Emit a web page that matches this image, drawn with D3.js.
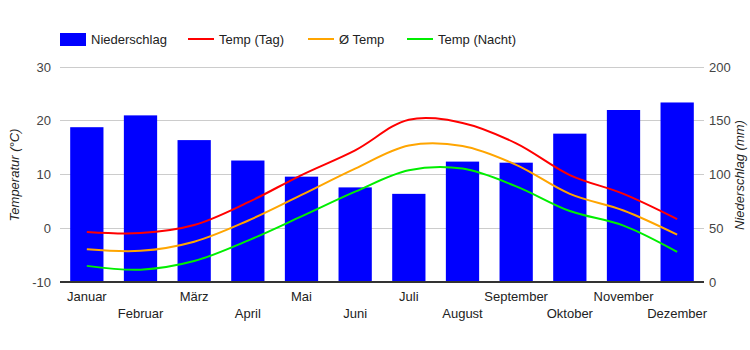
<!DOCTYPE html>
<html><head><meta charset="utf-8">
<script src="https://cdn.jsdelivr.net/npm/d3@7"></script>
<style>body{margin:0;background:#fff;font-family:Arial,"Liberation Sans",sans-serif;}</style>
</head><body><svg id="c" width="750" height="350"></svg>
<script>
const months = ["Januar","Februar","März","April","Mai","Juni","Juli","August","September","Oktober","November","Dezember"];
const precip = [144,155,132,113,98,88,82,112,111,138,160,167];
const tempDay = [-0.7,-0.9,0.6,4.8,9.9,14.5,20.2,19.6,15.8,9.9,6.4,1.7];
const tempAvg = [-3.9,-4.2,-2.5,1.4,6.2,11.1,15.4,15.3,11.8,6.4,3.3,-1.2];
const tempNight = [-7.0,-7.7,-6.1,-2.3,2.2,6.8,10.8,11.1,7.8,3.2,0.5,-4.4];
const tempTicks = [-10,0,10,20,30];
const precipTicks = [0,50,100,150,200];
const legendItems = [
  {label:"Niederschlag", type:"rect", color:"#0000ff"},
  {label:"Temp (Tag)", type:"line", color:"#ff0000"},
  {label:"Ø Temp", type:"line", color:"#ffa500"},
  {label:"Temp (Nacht)", type:"line", color:"#00ee00"}
];
const legendX = [60,188,308,407];

const svg = d3.select("#c");
const L=60,R=704,T=67,B=282;
const x = d3.scaleBand().domain(months).range([L,R]).paddingInner(0.38).paddingOuter(0.19);
const xc = m => x(m)+x.bandwidth()/2;
const yT = d3.scaleLinear().domain([-10,30]).range([B,T]);
const yP = d3.scaleLinear().domain([0,200]).range([B,T]);

// grid
svg.append("g").selectAll("line").data(tempTicks.slice(1)).join("line")
  .attr("x1",L).attr("x2",R).attr("y1",d=>yT(d)).attr("y2",d=>yT(d))
  .attr("stroke","#cccccc").attr("stroke-width",1).attr("shape-rendering","crispEdges");

// bars
svg.append("g").selectAll("rect").data(precip).join("rect")
  .attr("x",(d,i)=>x(months[i])).attr("width",x.bandwidth())
  .attr("y",d=>yP(d)).attr("height",d=>B-yP(d)).attr("fill","#0000ff");

// baseline
svg.append("line").attr("x1",L).attr("x2",R).attr("y1",B).attr("y2",B)
  .attr("stroke","#333").attr("stroke-width",1.2).attr("shape-rendering","crispEdges");

// lines
const line = d3.line().x((d,i)=>xc(months[i])).y(d=>yT(d)).curve(d3.curveCatmullRom.alpha(0.5));
[[tempDay,"#ff0000"],[tempAvg,"#ffa500"],[tempNight,"#00ee00"]].forEach(([data,c])=>{
  svg.append("path").attr("d",line(data)).attr("fill","none").attr("stroke",c).attr("stroke-width",2);
});

// left axis labels
svg.append("g").selectAll("text").data(tempTicks).join("text")
  .attr("x",51).attr("y",d=>yT(d)+4.5).attr("text-anchor","end")
  .attr("font-size",13).attr("fill","#444").text(d=>d);
// right axis labels
svg.append("g").selectAll("text").data(precipTicks).join("text")
  .attr("x",709).attr("y",d=>yP(d)+4.5).attr("text-anchor","start")
  .attr("font-size",13).attr("fill","#444").text(d=>d);

// axis titles
svg.append("text").attr("transform","translate(19,175) rotate(-90)").attr("text-anchor","middle")
  .attr("font-size",13).attr("font-style","italic").attr("fill","#222").text("Temperatur (°C)");
svg.append("text").attr("transform","translate(744,175) rotate(-90)").attr("text-anchor","middle")
  .attr("font-size",13).attr("font-style","italic").attr("fill","#222").text("Niederschlag (mm)");

// x labels
svg.append("g").selectAll("text").data(months).join("text")
  .attr("x",d=>xc(d)).attr("y",(d,i)=> i%2===0 ? 301 : 318).attr("text-anchor","middle")
  .attr("font-size",13).attr("fill","#222").text(d=>d);

// legend
const lg = svg.append("g").selectAll("g").data(legendItems).join("g")
  .attr("transform",(d,i)=>`translate(${legendX[i]},39)`);
lg.each(function(d){
  const g=d3.select(this);
  if(d.type==="rect") g.append("rect").attr("x",0).attr("y",-6).attr("width",26).attr("height",13).attr("fill",d.color);
  else g.append("line").attr("x1",0).attr("x2",26).attr("y1",0).attr("y2",0).attr("stroke",d.color).attr("stroke-width",2);
  g.append("text").attr("x",31).attr("y",5).attr("font-size",13).attr("fill","#222").text(d.label);
});
</script></body></html>
